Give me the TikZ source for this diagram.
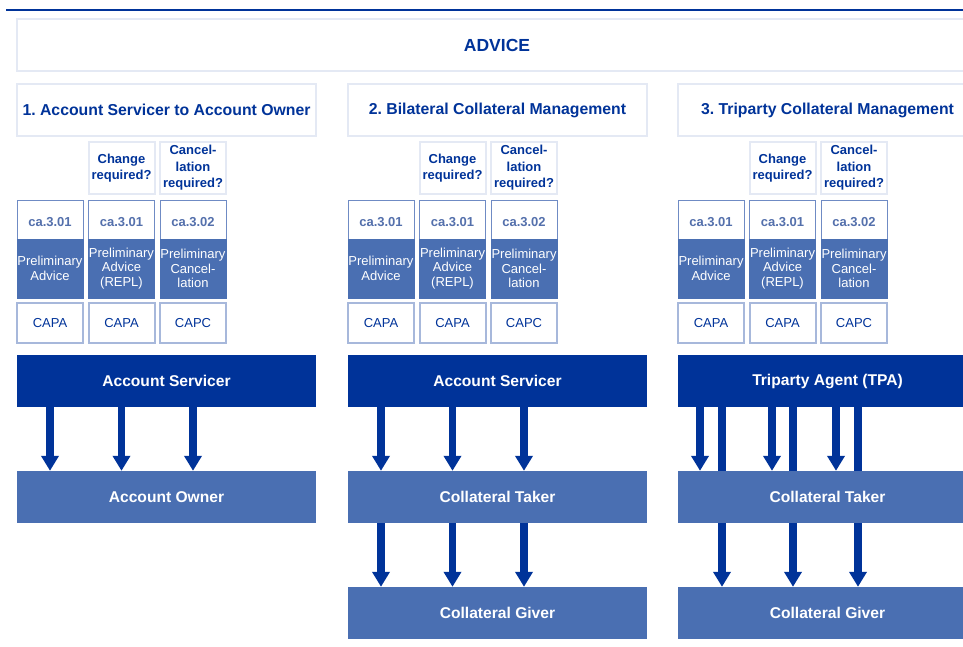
\documentclass[tikz,border=0pt]{standalone}
\usepackage{fontspec}
\setmainfont{Liberation Sans}
\usetikzlibrary{arrows.meta}
\frenchspacing
\definecolor{navy}{HTML}{003399}
\definecolor{midblue}{HTML}{4A6FB2}
\definecolor{paleline}{HTML}{E4E9F4}
\definecolor{capaline}{HTML}{A7B8DB}
\definecolor{codeline}{HTML}{6F8BC4}
\definecolor{codetext}{HTML}{5470AC}
\tikzset{%
  titlebox/.style = {shape=rectangle, draw=paleline, line width=2pt, fill=white,%
                     minimum width=299pt, minimum height=52pt, inner sep=0pt,%
                     text=navy, font=\fontsize{15.8pt}{18pt}\selectfont\bfseries},%
  askbox/.style   = {titlebox, minimum width=66pt, align=center,%
                     font=\fontsize{13pt}{16.5pt}\selectfont\bfseries},%
  codebox/.style  = {shape=rectangle, draw=codeline, line width=1pt, fill=white,%
                     minimum width=66pt, minimum height=39pt, inner sep=0pt,%
                     text height=14pt, text depth=0pt,%
                     text=codetext, font=\fontsize{13pt}{16pt}\selectfont\bfseries},%
  msgbox/.style   = {codebox, fill=midblue, draw=midblue, minimum height=59pt,%
                     text height=, text depth=,%
                     text=white, align=center, font=\fontsize{13pt}{14.5pt}\selectfont},%
  typebox/.style  = {shape=rectangle, draw=capaline, line width=2pt, fill=white,%
                     minimum width=66pt, minimum height=40pt, inner sep=0pt,%
                     text=navy, font=\fontsize{13pt}{16pt}\selectfont},%
  agentbox/.style = {shape=rectangle, fill=navy, minimum width=299pt,%
                     minimum height=52pt, text=white,%
                     font=\fontsize{15.6pt}{18pt}\selectfont\bfseries},%
  partybox/.style = {agentbox, fill=midblue},%
  flow/.style     = {draw=navy, line width=7.5pt, -{Triangle[width=17pt,length=15pt]}}%
}
\begin{document}
\begin{tikzpicture}[x=1pt,y=-1pt]
	\clip (0,0) rectangle (963,647);
	\fill[white] (0,0) rectangle (963,647);
	\draw[navy, line width=2.5pt] (6,10) -- (975,10);
	\node[titlebox, minimum width=960pt, font=\fontsize{17.5pt}{20pt}\selectfont\bfseries]
		(advice) at (497,45) {ADVICE};
	% the three cases
	\node[titlebox] (sec1) at (166.5,110) {1. Account Servicer to Account Owner};
	\node[titlebox] (sec2) at (497.5,110) {2. Bilateral Collateral Management};
	\node[titlebox] (sec3) at (827.5,110) {3. Triparty Collateral Management};
	\foreach \s/\x in {1/17, 2/348, 3/678} {
		\node[askbox] (chg\s) at (\x+104.5,168) {Change\\required?};
		\node[askbox] (cnl\s) at (\x+176,168) {Cancel-\\lation\\required?};
		\node[codebox] (code\s-1) at (\x+33,219.5) {ca.3.01};
		\node[codebox] (code\s-2) at (\x+104.5,219.5) {ca.3.01};
		\node[codebox] (code\s-3) at (\x+176,219.5) {ca.3.02};
		\node[msgbox] (msg\s-1) at (\x+33,268.5) {Preliminary\\Advice};
		\node[msgbox] (msg\s-2) at (\x+104.5,268.5) {Preliminary\\Advice\\(REPL)};
		\node[msgbox] (msg\s-3) at (\x+176,268.5) {Preliminary\\Cancel-\\lation};
		\node[typebox] (typ\s-1) at (\x+33,323) {CAPA};
		\node[typebox] (typ\s-2) at (\x+104.5,323) {CAPA};
		\node[typebox] (typ\s-3) at (\x+176,323) {CAPC};
	}
	% parties
	\node[agentbox] (srv1) at (166.5,381) {Account Servicer};
	\node[partybox] (own1) at (166.5,497) {Account Owner};
	\node[agentbox] (srv2) at (497.5,381) {Account Servicer};
	\node[partybox] (tkr2) at (497.5,497) {Collateral Taker};
	\node[partybox] (gvr2) at (497.5,613) {Collateral Giver};
	\node[agentbox] (tpa3) at (827.5,381) {Triparty Agent (TPA)};
	\node[partybox] (gvr3) at (827.5,613) {Collateral Giver};
	\foreach \c in {1,2,3} {
		\draw[flow] (srv1.south -| code1-\c) -- (own1.north -| code1-\c);
		\draw[flow] (srv2.south -| code2-\c) -- (tkr2.north -| code2-\c);
		\draw[flow] (tkr2.south -| code2-\c) -- (gvr2.north -| code2-\c);
	}
	\coordinate (near1) at (700,0);
	\coordinate (near2) at (772,0);
	\coordinate (near3) at (836,0);
	\coordinate (far1) at (722,0);
	\coordinate (far2) at (793,0);
	\coordinate (far3) at (858,0);
	\foreach \c in {1,2,3}
		\draw[flow] (tpa3.south -| far\c) -- (gvr3.north -| far\c);
	\node[partybox] (tkr3) at (827.5,497) {Collateral Taker};
	\foreach \c in {1,2,3}
		\draw[flow] (tpa3.south -| near\c) -- (tkr3.north -| near\c);
\end{tikzpicture}
\end{document}
